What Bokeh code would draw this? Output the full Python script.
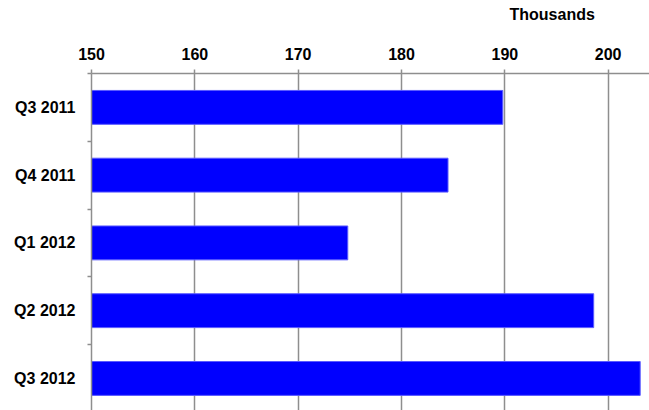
from bokeh.plotting import figure
from bokeh.models import ColumnDataSource, Range1d, FixedTicker, Title
from bokeh.embed import file_html
from bokeh.resources import INLINE

categories = ["Q3 2011", "Q4 2011", "Q1 2012", "Q2 2012", "Q3 2012"]
values = [189.8, 184.5, 174.8, 198.6, 203.1]
x_ticks = [150, 160, 170, 180, 190, 200]
unit_label = "Thousands"

positions = [i + 0.5 for i in range(len(categories))]
src = ColumnDataSource(dict(cat=categories, val=values, pos=positions))

FONT = "Liberation Sans"
GRAY = "#8e8e8e"

p = figure(width=649, height=410, output_backend="svg", toolbar_location=None,
           x_range=Range1d(150, 204), y_range=Range1d(4.973, 0),
           x_axis_location="above", min_border_left=91, min_border_right=0,
           min_border_top=73, min_border_bottom=0)
p.outline_line_color = None
p.background_fill_color = "white"
p.border_fill_color = "white"

p.hbar(y="pos", left=150, right="val", height=0.5, source=src,
       fill_color="#0000ff", line_color="#5a5aff", line_width=1)

xa = p.xaxis[0]
xa.ticker = FixedTicker(ticks=x_ticks)
xa.axis_line_color = GRAY
xa.axis_line_width = 1.5
xa.major_tick_line_color = GRAY
xa.major_tick_line_width = 1.5
xa.major_tick_out = 4
xa.major_tick_in = 0
xa.minor_tick_line_color = None
xa.major_label_text_font = FONT
xa.major_label_text_font_style = "bold"
xa.major_label_text_font_size = "16px"
xa.major_label_text_color = "black"
xa.major_label_standoff = 10
# blank spacer label to lift the unit title
xa.axis_label = " "
xa.axis_label_text_font_size = "10px"
xa.axis_label_standoff = 8

ya = p.yaxis[0]
ya.ticker = FixedTicker(ticks=positions, minor_ticks=list(range(len(categories) + 1)))
ya.major_label_overrides = {pos: c for pos, c in zip(positions, categories)}
ya.axis_line_color = GRAY
ya.axis_line_width = 1.5
ya.major_tick_line_color = None
ya.minor_tick_line_color = GRAY
ya.minor_tick_line_width = 1.5
ya.minor_tick_out = 4
ya.minor_tick_in = 0
ya.major_label_text_font = FONT
ya.major_label_text_font_style = "bold"
ya.major_label_text_font_size = "16px"
ya.major_label_text_color = "black"
ya.major_label_standoff = 10

p.xgrid.grid_line_color = GRAY
p.xgrid.grid_line_width = 1.5
p.ygrid.grid_line_color = None

p.add_layout(Title(text=unit_label, align="left", offset=418,
                   text_font=FONT, text_font_style="bold", text_font_size="16px",
                   text_color="black", standoff=0), "above")

open("out.html", "w").write(file_html(p, INLINE))
